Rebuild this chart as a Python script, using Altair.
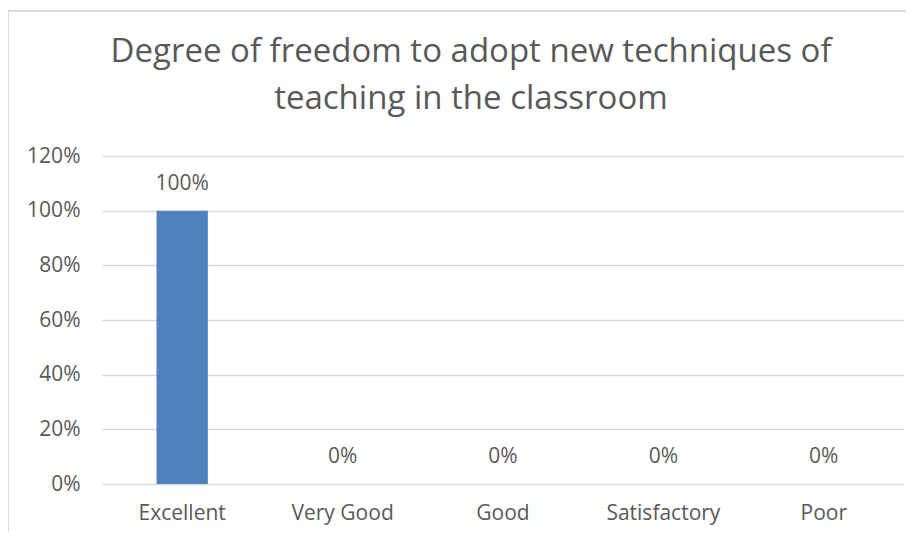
import altair as alt
import pandas as pd

categories = ["Excellent", "Very Good", "Good", "Satisfactory", "Poor"]
values = [1.0, 0.0, 0.0, 0.0, 0.0]
y_ticks = [0, 0.2, 0.4, 0.6, 0.8, 1.0, 1.2]
title_lines = ["Degree of freedom to adopt new techniques of", "teaching in the classroom"]

df = pd.DataFrame({"category": categories, "value": values})

FONT = "Open Sans"
GREY = "#595959"
FS = 21

x = alt.X("category:N", sort=categories, title=None,
          scale=alt.Scale(paddingInner=0.68, paddingOuter=0.34),
          axis=alt.Axis(labelAngle=0, domain=False, ticks=False, labelPadding=18,
                        labelFontSize=FS, labelColor=GREY, labelFont=FONT))
y = alt.Y("value:Q", title=None,
          scale=alt.Scale(domain=[0, 1.2], nice=False),
          axis=alt.Axis(values=y_ticks, format=".0%", domain=False, ticks=False,
                        labelPadding=22, labelFontSize=FS, labelColor=GREY, labelFont=FONT,
                        grid=True, gridColor="#d9d9d9", gridWidth=1.5))

bars = alt.Chart(df).mark_bar(color="#4F81BD").encode(x=x, y=y)
labels = alt.Chart(df).mark_text(baseline="middle", dy=-27, fontSize=FS, color=GREY, font=FONT).encode(
    x=alt.X("category:N", sort=categories),
    y="value:Q",
    text=alt.Text("value:Q", format=".0%"),
)
frame = alt.Chart(df).mark_rect(fill=None, stroke="#d9d9d9", strokeWidth=1.5).encode(
    x=alt.value(-94), x2=alt.value(950), y=alt.value(-145), y2=alt.value(420)
)

title_layers = []
for line, ypos in zip(title_lines, [-104, -57]):
    title_layers.append(
        alt.Chart(pd.DataFrame({"line": [line]})).mark_text(
            baseline="middle", align="center", fontSize=33, color=GREY, font=FONT
        ).encode(x=alt.value(369), y=alt.value(ypos), text="line:N")
    )

chart = alt.layer(frame, bars, labels, *title_layers).properties(
    width=802, height=328,
    autosize=alt.AutoSizeParams(type="none"),
    padding={"left": 94, "top": 148, "right": 2, "bottom": 48},
).configure_view(stroke=None)

chart.save("out.html", embed_options={"renderer": "svg", "actions": False})
